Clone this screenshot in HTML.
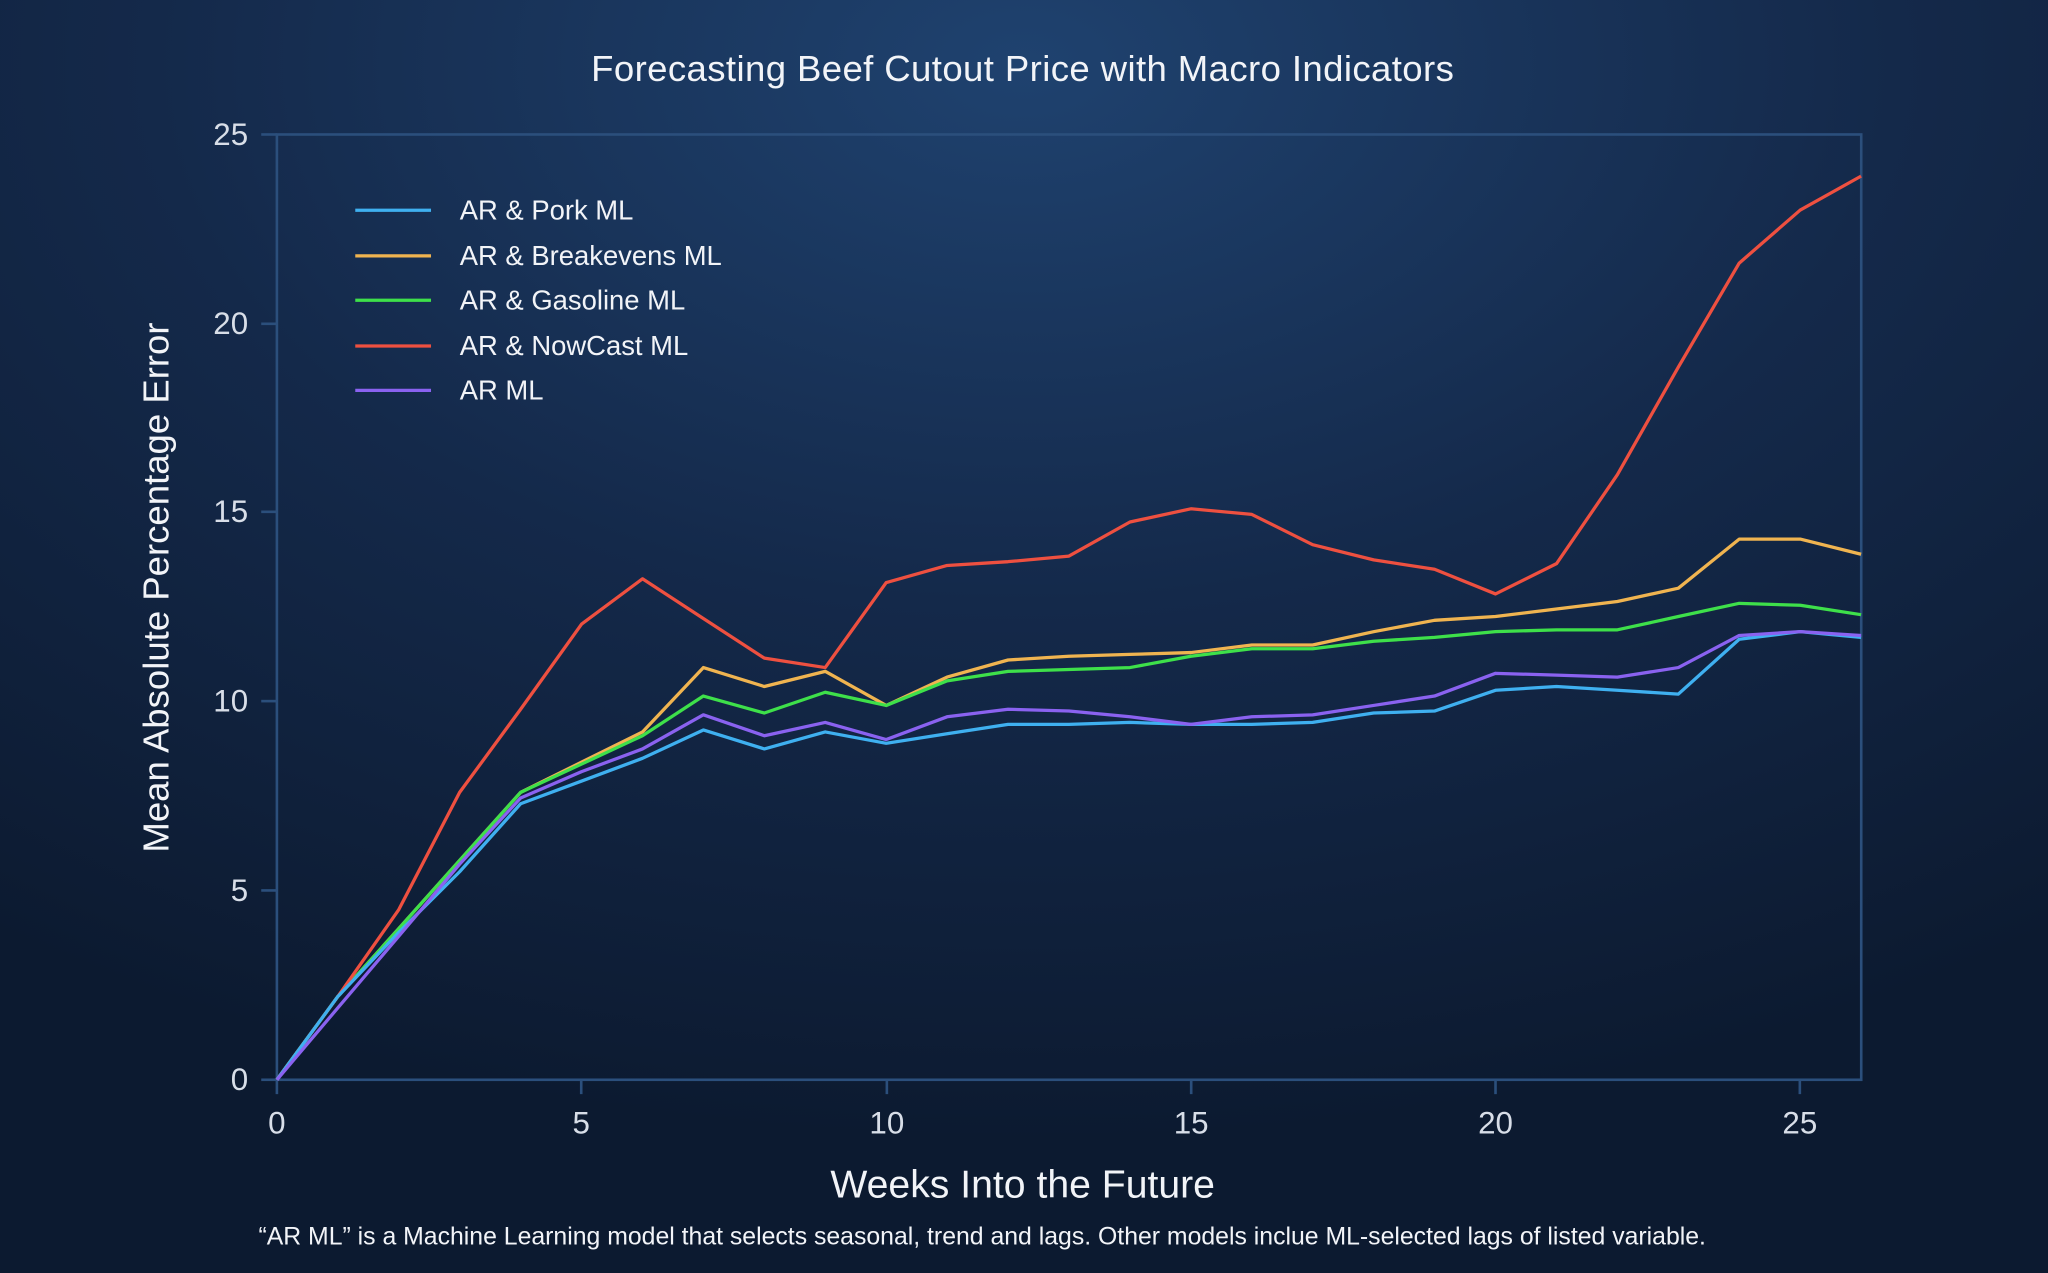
<!DOCTYPE html>
<html><head><meta charset="utf-8"><style>
html,body{margin:0;padding:0;width:2048px;height:1273px;overflow:hidden;background:#0e1f37;}
svg{display:block}
text{font-family:"Liberation Sans",sans-serif;fill:#f2f4f8}
text.tk{font-family:"Liberation Sans Narrow","Liberation Sans",sans-serif;font-size:24px;fill:#d8dee8}
</style></head><body>
<svg width="2048" height="1273" viewBox="0 0 1568 975" preserveAspectRatio="none">
<defs>
<radialGradient id="bg" cx="0.5" cy="0.05" r="0.85">
<stop offset="0" stop-color="#1f426f"/>
<stop offset="0.5" stop-color="#14294a"/>
<stop offset="1" stop-color="#0c1a30"/>
</radialGradient>
</defs>
<rect width="1568" height="975" fill="url(#bg)"/>
<rect x="212" y="103" width="1213" height="724" fill="none" stroke="#2b4f7c" stroke-width="2"/>
<g stroke="#2b4f7c" stroke-width="2">
<line x1="200" y1="103" x2="212" y2="103"/><line x1="200" y1="248" x2="212" y2="248"/><line x1="200" y1="392" x2="212" y2="392"/><line x1="200" y1="537" x2="212" y2="537"/><line x1="200" y1="682" x2="212" y2="682"/><line x1="200" y1="827" x2="212" y2="827"/>
<line x1="212" y1="827" x2="212" y2="838"/><line x1="445" y1="827" x2="445" y2="838"/><line x1="679" y1="827" x2="679" y2="838"/><line x1="912" y1="827" x2="912" y2="838"/><line x1="1145" y1="827" x2="1145" y2="838"/><line x1="1378" y1="827" x2="1378" y2="838"/>
</g>
<g text-anchor="end">
<text class="tk" x="190" y="111">25</text>
<text class="tk" x="190" y="256">20</text>
<text class="tk" x="190" y="400">15</text>
<text class="tk" x="190" y="545">10</text>
<text class="tk" x="190" y="690">5</text>
<text class="tk" x="190" y="835">0</text>
</g>
<g text-anchor="middle">
<text class="tk" x="212" y="868">0</text>
<text class="tk" x="445" y="868">5</text>
<text class="tk" x="679" y="868">10</text>
<text class="tk" x="912" y="868">15</text>
<text class="tk" x="1145" y="868">20</text>
<text class="tk" x="1378" y="868">25</text>
</g>
<text x="783" y="62" text-anchor="middle" font-size="28" letter-spacing="0.3">Forecasting Beef Cutout Price with Macro Indicators</text>
<text x="783" y="917" text-anchor="middle" font-size="30">Weeks Into the Future</text>
<text x="752" y="953" text-anchor="middle" font-size="19">“AR ML” is a Machine Learning model that selects seasonal, trend and lags. Other models inclue ML-selected lags of listed variable.</text>
<text transform="translate(129,450) rotate(-90)" text-anchor="middle" font-size="28">Mean Absolute Percentage Error</text>
<g stroke-width="2.5">
<line x1="272" y1="161" x2="330" y2="161" stroke="#3fb0f0"/>
<line x1="272" y1="196" x2="330" y2="196" stroke="#f0b450"/>
<line x1="272" y1="230" x2="330" y2="230" stroke="#3ee04a"/>
<line x1="272" y1="265" x2="330" y2="265" stroke="#ee5040"/>
<line x1="272" y1="299" x2="330" y2="299" stroke="#8a62f0"/>
</g>
<g font-size="21">
<text x="352" y="168">AR &amp; Pork ML</text>
<text x="352" y="203">AR &amp; Breakevens ML</text>
<text x="352" y="237">AR &amp; Gasoline ML</text>
<text x="352" y="272">AR &amp; NowCast ML</text>
<text x="352" y="306">AR ML</text>
</g>
<g id="series" fill="none" stroke-width="2.5" stroke-linejoin="round"></g>
</svg>
<script>
var D=[
["#f0b450",[0,2.2,4,5.8,7.6,8.4,9.2,10.9,10.4,10.8,9.9,10.65,11.1,11.2,11.25,11.3,11.5,11.5,11.85,12.15,12.25,12.45,12.65,13.0,14.3,14.3,13.9]],
["#3ee04a",[0,2.2,4,5.8,7.6,8.35,9.1,10.15,9.7,10.25,9.9,10.55,10.8,10.85,10.9,11.2,11.4,11.4,11.6,11.7,11.85,11.9,11.9,12.25,12.6,12.55,12.3]],
["#ee5040",[0,2.2,4.5,7.6,9.8,12.05,13.25,12.2,11.15,10.9,13.15,13.6,13.7,13.85,14.75,15.1,14.95,14.15,13.75,13.5,12.85,13.65,16.0,18.85,21.6,23.0,23.9]],
["#3fb0f0",[0,2.2,3.9,5.5,7.3,7.9,8.5,9.25,8.75,9.2,8.9,9.15,9.4,9.4,9.45,9.4,9.4,9.45,9.7,9.75,10.3,10.4,10.3,10.2,11.65,11.85,11.7]],
["#8a62f0",[0,1.9,3.8,5.7,7.45,8.15,8.75,9.65,9.1,9.45,9.0,9.6,9.8,9.75,9.6,9.4,9.6,9.65,9.9,10.15,10.75,10.7,10.65,10.9,11.75,11.85,11.75]]
];
var g=document.getElementById('series'),s='';
D.forEach(function(d){var p=d[1].map(function(v,i){return (212+46.65*i).toFixed(1)+','+(827-28.96*v).toFixed(1)}).join(' ');
s+='<polyline stroke="'+d[0]+'" points="'+p+'"/>';});
g.innerHTML=s;
</script>
</body></html>
